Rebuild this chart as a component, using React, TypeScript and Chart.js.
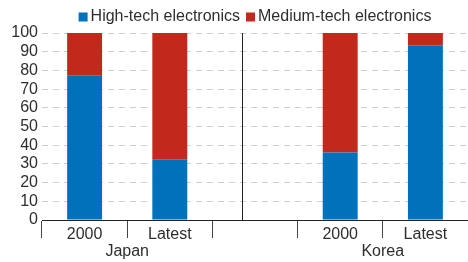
import React, { useEffect, useRef } from "react";
import { Chart, registerables } from "chart.js";

Chart.register(...registerables);

const categories = ["2000", "Latest", "", "2000", "Latest"];
const groups = [
  { label: "Japan", from: 0, to: 1 },
  { label: "Korea", from: 3, to: 4 },
];
const highTech = [77.2, 32.5, null, 36.1, 93.5];
const mediumTech = [22.8, 67.5, null, 63.9, 6.5];
const seriesNames = ["High-tech electronics", "Medium-tech electronics"];
const seriesColors = ["#0072BC", "#C0291C"];
const yTicks = { min: 0, max: 100, step: 10 };

const FONT = "Liberation Sans, Arial, sans-serif";
const TEXT = "#2e2e2e";

const decorPlugin = {
  id: "decor",
  afterDraw(chart: any) {
    const ctx = chart.ctx;
    const x = chart.scales.x;
    const area = chart.chartArea;
    ctx.save();
    // divider between groups
    const slot = x.getPixelForValue(1) - x.getPixelForValue(0);
    const dx = Math.round(x.getPixelForValue(2) - 0.15 * slot) + 0.5;
    ctx.strokeStyle = "#222";
    ctx.lineWidth = 1;
    ctx.beginPath();
    ctx.moveTo(dx, area.top);
    ctx.lineTo(dx, area.bottom);
    ctx.stroke();
    // group labels
    ctx.fillStyle = TEXT;
    ctx.font = `16px ${FONT}`;
    ctx.textAlign = "center";
    ctx.textBaseline = "middle";
    groups.forEach((g) => {
      const cx = (x.getPixelForValue(g.from) + x.getPixelForValue(g.to)) / 2;
      ctx.fillText(g.label, cx, area.bottom + 32);
    });
    // legend
    ctx.font = `16px ${FONT}`;
    const box = 9;
    const gap = 3;
    const between = 6;
    const items = chart.data.datasets.map((d: any) => ({
      text: d.label,
      color: d.backgroundColor,
      w: box + gap + ctx.measureText(d.label).width,
    }));
    const total =
      items.reduce((s: number, it: any) => s + it.w, 0) + between * (items.length - 1);
    let lx = (area.left + area.right) / 2 - total / 2;
    const ly = 17;
    ctx.textAlign = "left";
    items.forEach((it: any) => {
      ctx.fillStyle = it.color;
      ctx.fillRect(lx, ly - box / 2, box, box);
      ctx.fillStyle = TEXT;
      ctx.fillText(it.text, lx + box + gap, ly);
      lx += it.w + between;
    });
    ctx.restore();
  },
};

export default function App() {
  const ref = useRef<HTMLCanvasElement>(null);
  useEffect(() => {
    document.body.style.margin = "0";
    const chart = new Chart(ref.current!, {
      type: "bar",
      data: {
        labels: categories,
        datasets: [
          {
            label: seriesNames[0],
            data: highTech,
            backgroundColor: seriesColors[0],
            barPercentage: 0.41,
            categoryPercentage: 1,
          },
          {
            label: seriesNames[1],
            data: mediumTech,
            backgroundColor: seriesColors[1],
            barPercentage: 0.41,
            categoryPercentage: 1,
          },
        ],
      },
      options: {
        animation: false,
        responsive: false,
        layout: { padding: { top: 33, right: 0, left: 0, bottom: 0 } },
        plugins: { legend: { display: false }, tooltip: { enabled: false } },
        scales: {
          x: {
            stacked: true,
            grid: {
              offset: true,
              drawOnChartArea: false,
              drawTicks: true,
              tickLength: 18,
              color: (c: any) => (c.index >= categories.length ? "rgba(0,0,0,0)" : "#444"),
            },
            border: { display: true, color: "#222", width: 1 },
            ticks: {
              color: TEXT,
              font: { family: FONT, size: 16 },
              padding: -13,
              maxRotation: 0,
              autoSkip: false,
            },
            afterFit: (s: any) => {
              s.height = 42;
            },
          },
          y: {
            stacked: true,
            min: yTicks.min,
            max: yTicks.max,
            ticks: {
              stepSize: yTicks.step,
              autoSkip: false,
              color: TEXT,
              font: { family: FONT, size: 16 },
              padding: 4,
            },
            grid: {
              drawTicks: false,
              color: "#cfcfcf",
              lineWidth: 1,
            },
            border: { display: false, dash: [6, 5] },
            afterFit: (s: any) => {
              s.width = 42;
            },
          },
        },
      },
      plugins: [decorPlugin],
    });
    return () => chart.destroy();
  }, []);
  return (
    <div style={{ width: 468, height: 262 }}>
      <canvas ref={ref} width={468} height={262} />
    </div>
  );
}
